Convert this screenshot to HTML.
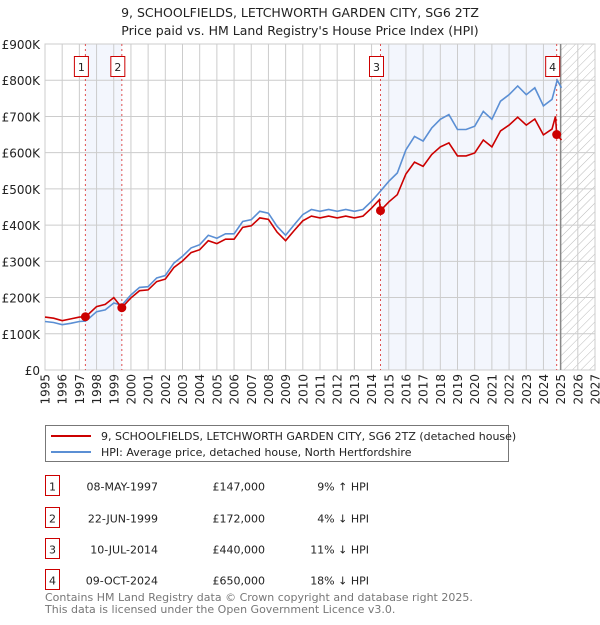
<!DOCTYPE html>
<html><head><meta charset="utf-8"><style>
body{margin:0;background:#fff;font-family:"Liberation Sans","DejaVu Sans",sans-serif;}
svg text{font-family:"DejaVu Sans","Liberation Sans",sans-serif;}
</style></head><body>
<svg id="chart" width="600" height="620" xmlns="http://www.w3.org/2000/svg">
<defs><pattern id="hatch" width="6" height="6" patternUnits="userSpaceOnUse" patternTransform="rotate(45)"><line x1="0" y1="0" x2="0" y2="6" stroke="#bbb" stroke-width="1"/></pattern></defs>
<text x="300" y="17" text-anchor="middle" font-size="12.5" fill="#222">9, SCHOOLFIELDS, LETCHWORTH GARDEN CITY, SG6 2TZ</text>
<text x="300" y="35" text-anchor="middle" font-size="12.5" fill="#222">Price paid vs. HM Land Registry's House Price Index (HPI)</text>
<g id="plot"></g>
<g>
<rect x="45.5" y="425.5" width="463" height="36" fill="#fff" stroke="#777"/>
<line x1="51" y1="436" x2="91" y2="436" stroke="#cc0000" stroke-width="2"/>
<text x="101" y="440" font-size="11" fill="#222">9, SCHOOLFIELDS, LETCHWORTH GARDEN CITY, SG6 2TZ (detached house)</text>
<line x1="51" y1="452" x2="91" y2="452" stroke="#5b8fd4" stroke-width="2"/>
<text x="101" y="456" font-size="11" fill="#222">HPI: Average price, detached house, North Hertfordshire</text>
</g>
<g id="table"></g>
<text x="45" y="601" font-size="11" fill="#777">Contains HM Land Registry data © Crown copyright and database right 2025.</text>
<text x="45" y="613" font-size="11" fill="#777">This data is licensed under the Open Government Licence v3.0.</text>
</svg>
<script>
const hpiYears=[1995,1995.5,1996,1996.5,1997,1997.35,1997.5,1998,1998.5,1999,1999.47,2000,2000.5,2001,2001.5,2002,2002.5,2003,2003.5,2004,2004.5,2005,2005.5,2006,2006.5,2007,2007.5,2008,2008.5,2009,2009.5,2010,2010.5,2011,2011.5,2012,2012.5,2013,2013.5,2014,2014.52,2015,2015.5,2016,2016.5,2017,2017.5,2018,2018.5,2019,2019.5,2020,2020.5,2021,2021.5,2022,2022.5,2023,2023.5,2024,2024.5,2024.8,2025.05];
const hpiValues=[134,131,125,129,134,135,140,161,166,185,179,207,228,230,254,261,295,314,337,346,372,364,376,376,410,415,438,433,397,372,401,429,443,438,443,438,443,438,443,466,494,521,544,608,645,632,668,692,705,664,664,673,714,692,742,760,784,760,779,729,747,800,779];
const priceYears=[1995,1995.5,1996,1996.5,1997,1997.35,1997.5,1998,1998.5,1999,1999.47,2000,2000.5,2001,2001.5,2002,2002.5,2003,2003.5,2004,2004.5,2005,2005.5,2006,2006.5,2007,2007.5,2008,2008.5,2009,2009.5,2010,2010.5,2011,2011.5,2012,2012.5,2013,2013.5,2014,2014.45,2014.52,2015,2015.5,2016,2016.5,2017,2017.5,2018,2018.5,2019,2019.5,2020,2020.5,2021,2021.5,2022,2022.5,2023,2023.5,2024,2024.5,2024.7,2024.77,2025.05];
const priceValues=[146,143,136,141,146,147,153,175,181,200,172,199,219,221,244,251,283,301,324,332,357,349,361,361,394,398,420,416,381,357,385,412,425,420,425,420,425,420,425,447,470,440,464,484,541,574,562,595,616,627,591,591,599,635,616,660,676,698,676,693,649,665,700,650,635];
const saleLabels=["1","2","3","4"];
const saleYears=[1997.35,1999.47,2014.52,2024.77];
const salePrices=[147,172,440,650];
const saleDates=["08-MAY-1997","22-JUN-1999","10-JUL-2014","09-OCT-2024"];
const salePriceText=["£147,000","£172,000","£440,000","£650,000"];
const saleHpiText=["9% \u2191 HPI","4% \u2193 HPI","11% \u2193 HPI","18% \u2193 HPI"];
const yTicks=[0,100,200,300,400,500,600,700,800,900];
const yTickLabels=["£0","£100K","£200K","£300K","£400K","£500K","£600K","£700K","£800K","£900K"];
const xTicks=[1995,1996,1997,1998,1999,2000,2001,2002,2003,2004,2005,2006,2007,2008,2009,2010,2011,2012,2013,2014,2015,2016,2017,2018,2019,2020,2021,2022,2023,2024,2025,2026,2027];

const X0=45,X1=595,Y0=370,Y1=44,xmin=1995,xmax=2027,ymax=900;
const xs=v=>X0+(v-xmin)/(xmax-xmin)*(X1-X0);
const ys=v=>Y0-v/ymax*(Y0-Y1);
const NS="http://www.w3.org/2000/svg";
const plot=document.getElementById('plot');
function mk(tag,attrs,parent){const e=document.createElementNS(NS,tag);for(const k in attrs)e.setAttribute(k,attrs[k]);(parent||plot).appendChild(e);return e;}

for(let i=0;i<saleYears.length;i+=2){
  const r=mk('rect',{x:xs(saleYears[i]),y:Y1,width:xs(saleYears[i+1])-xs(saleYears[i]),height:Y0-Y1,fill:'#f3f6fd'});
  
  
}
const hz=mk('rect',{x:xs(2025),y:Y1,width:X1-xs(2025),height:Y0-Y1,fill:'url(#hatch)'});


yTicks.forEach((t,i)=>{
  const l=mk('line',{x1:X0,x2:X1,y1:ys(t),y2:ys(t),stroke:'#ccc','stroke-width':1});
  
  
  const tx=mk('text',{x:40,y:ys(t)+5,'text-anchor':'end','font-size':12,fill:'#222'});
  tx.textContent=yTickLabels[i];
  
  
});
xTicks.forEach(t=>{
  const l=mk('line',{x1:xs(t),x2:xs(t),y1:Y1,y2:Y0,stroke:'#ccc','stroke-width':1});
  
  
  const tx=mk('text',{x:0,y:0,'text-anchor':'end','font-size':12,fill:'#222',transform:`translate(${xs(t)+4.5},374) rotate(-90)`});
  tx.textContent=t;
  
  
});
const bd=mk('rect',{x:X0,y:Y1,width:X1-X0,height:Y0-Y1,fill:'none',stroke:'#ccc'});


const nl=mk('line',{x1:xs(2025),x2:xs(2025),y1:Y1,y2:Y0,stroke:'#888','stroke-width':1.5});


saleYears.forEach((s,i)=>{
  const l=mk('line',{x1:xs(s),x2:xs(s),y1:Y1,y2:Y0,stroke:'#e05050','stroke-width':1,'stroke-dasharray':'2,3'});
  
  
  const b=mk('rect',{x:xs(s)-11,y:56.5,width:14,height:20,fill:'#fff',stroke:'#cc0000'});
  
  
  const t=mk('text',{x:xs(s)-4,y:71,'text-anchor':'middle','font-size':11,fill:'#222'});
  t.textContent=saleLabels[i];
  
  
});
const hp=mk('path',{d:hpiYears.map((y,i)=>(i?'L':'M')+xs(y).toFixed(1)+','+ys(hpiValues[i]).toFixed(1)).join(''),fill:'none',stroke:'#5b8fd4','stroke-width':1.6});


const pp=mk('path',{d:priceYears.map((y,i)=>(i?'L':'M')+xs(y).toFixed(1)+','+ys(priceValues[i]).toFixed(1)).join(''),fill:'none',stroke:'#cc0000','stroke-width':1.6});


saleYears.forEach((s,i)=>{
  const c=mk('circle',{cx:xs(s),cy:ys(salePrices[i]),r:4.5,fill:'#cc0000'});
  
  
});
const tb=document.getElementById('table');
const rowY=[487,519,550,581];
saleLabels.forEach((lab,i)=>{
  const y=rowY[i];
  const b=mk('rect',{x:45.5,y:y-11.5,width:14,height:20,fill:'#fff',stroke:'#cc0000'},tb);
  
  
  const cells=[[52.5,lab,'middle'],[158,saleDates[i],'end'],[265,salePriceText[i],'end'],[369,saleHpiText[i],'end']];
  cells.forEach(c=>{
    const t=mk('text',{x:c[0],y:y+3.5,'text-anchor':c[2],'font-size':11,fill:'#222'},tb);
    t.textContent=c[1];
    
    
  });
});
</script>
</body></html>
